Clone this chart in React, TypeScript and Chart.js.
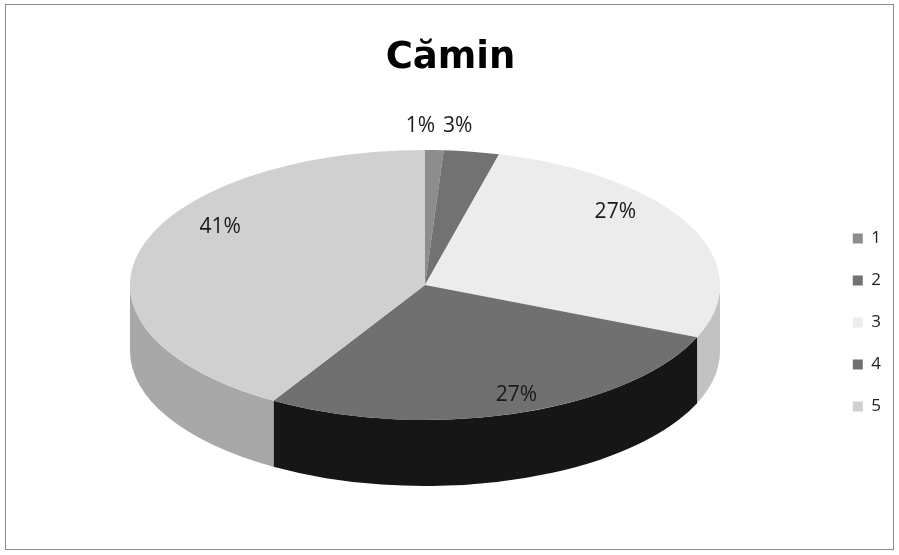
import React, { useEffect, useRef } from 'react';
import { Chart, registerables } from 'chart.js';

Chart.register(...registerables);

const title = 'Cămin';
const categories = ['1', '2', '3', '4', '5'];
const values = [1, 3, 27, 27, 41];
const topColors = ['#8d8d8d', '#727272', '#ececec', '#707070', '#d0d0d0'];
const sideColors = ['#5e5e5e', '#4c4c4c', '#c2c2c2', '#161616', '#a8a8a8'];

// 3D projection geometry (layout only)
const GEO = { cx: 425, cy: 285, rx: 295, ry: 135, depth: 66 };

const pie3d = {
  id: 'pie3d',
  beforeDraw(chart: any) {
    const ctx = chart.ctx;
    ctx.save();
    ctx.fillStyle = '#ffffff';
    ctx.fillRect(0, 0, chart.width, chart.height);
    ctx.strokeStyle = '#8a8a8a';
    ctx.lineWidth = 1;
    ctx.strokeRect(5.5, 4.5, chart.width - 11, chart.height - 10);
    ctx.restore();
  },
  beforeDatasetsDraw(chart: any) {
    const ctx = chart.ctx;
    const arcs = chart.getDatasetMeta(0).data;
    const { cx, cy, rx, ry, depth } = GEO;
    ctx.save();
    arcs.forEach((arc: any, i: number) => {
      const s = Math.max(arc.startAngle, 0);
      const e = Math.min(arc.endAngle, Math.PI);
      if (e > s) {
        ctx.beginPath();
        ctx.ellipse(cx, cy, rx, ry, 0, s, e, false);
        ctx.ellipse(cx, cy + depth, rx, ry, 0, e, s, true);
        ctx.closePath();
        ctx.fillStyle = sideColors[i];
        ctx.fill();
      }
    });
    ctx.restore();
    const a0 = arcs[0];
    const R = a0.outerRadius;
    ctx.save();
    ctx.translate(cx, cy);
    ctx.scale(rx / R, ry / R);
    ctx.translate(-a0.x, -a0.y);
  },
  afterDatasetsDraw(chart: any) {
    const ctx = chart.ctx;
    ctx.restore();
    const arcs = chart.getDatasetMeta(0).data;
    const { cx, cy, rx, ry } = GEO;
    ctx.save();
    ctx.font = '21px "Open Sans"';
    ctx.fillStyle = '#1a1a1a';
    ctx.textAlign = 'center';
    ctx.textBaseline = 'middle';
    arcs.forEach((arc: any, i: number) => {
      const mid = (arc.startAngle + arc.endAngle) / 2;
      const text = values[i] + '%';
      let x: number, y: number;
      if (values[i] < 5) {
        x = cx + rx * Math.cos(mid) - 14;
        y = cy - ry - 24;
      } else {
        const s = Math.sin(mid);
        const c = Math.cos(mid);
        x = cx + 0.72 * rx * c * (1 + 0.4 * Math.max(0, s));
        y = cy - 0.16 * ry + ry * s + 10 * Math.max(0, c);
      }
      ctx.fillText(text, x, y);
    });
    ctx.restore();
  },
};

export default function App() {
  const ref = useRef<HTMLCanvasElement | null>(null);
  useEffect(() => {
    if (!ref.current) return;
    const chart = new Chart(ref.current, {
      type: 'pie',
      data: {
        labels: categories,
        datasets: [
          {
            data: values,
            backgroundColor: topColors,
            borderWidth: 0,
            clip: false as any,
          },
        ],
      },
      options: {
        animation: false,
        responsive: false,
        layout: { padding: { left: 10, right: 8, top: 0, bottom: 10 } },
        plugins: {
          title: {
            display: true,
            text: title,
            color: '#000',
            font: { family: '"DejaVu Sans"', size: 37, weight: 'bold' },
            padding: { top: 36, bottom: 20 },
          },
          legend: {
            position: 'right',
            maxWidth: 79,
            title: {
              display: true,
              text: ' ',
              font: { size: 10 },
              padding: { top: 44, bottom: 44 },
            },
            labels: {
              boxWidth: 10,
              boxHeight: 10,
              padding: 25,
              color: '#222',
              font: { family: '"Open Sans"', size: 17 },
            },
          },
          tooltip: { enabled: false },
        },
      },
      plugins: [pie3d],
    });
    return () => chart.destroy();
  }, []);
  return (
    <div style={{ position: 'absolute', left: 0, top: 0, width: 899, height: 555, background: '#fff' }}>
      <canvas ref={ref} width={899} height={555} />
    </div>
  );
}
